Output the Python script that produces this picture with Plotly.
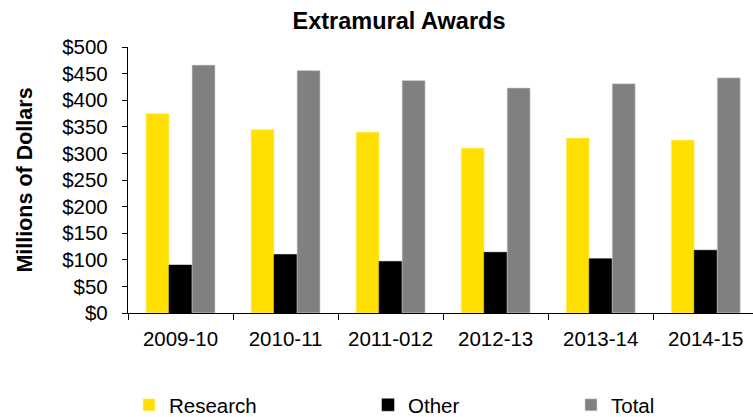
import plotly.graph_objects as go

categories = ["2009-10", "2010-11", "2011-012", "2012-13", "2013-14", "2014-15"]
research = [375, 345, 340, 310, 329, 325]
other = [90, 110, 97, 114, 102, 118]
total = [466, 456, 437, 423, 431, 442]
y_ticks = [0, 50, 100, 150, 200, 250, 300, 350, 400, 450, 500]

FONT = "Liberation Sans, Arial, sans-serif"
W, H = 753, 417

fig = go.Figure()
fig.add_trace(go.Bar(name="Research", x=categories, y=research,
                     marker=dict(color="#FFE000", line=dict(color="#FFF3A0", width=0.6)),
                     legend="legend"))
fig.add_trace(go.Bar(name="Other", x=categories, y=other,
                     marker=dict(color="#000000", line=dict(color="#000000", width=0.6)),
                     legend="legend2"))
fig.add_trace(go.Bar(name="Total", x=categories, y=total,
                     marker=dict(color="#808080", line=dict(color="#D8D8D8", width=0.6)),
                     legend="legend3"))

def leg(xpx):
    return dict(xref="container", yref="container", x=xpx / W, y=1 - 405 / H,
                xanchor="left", yanchor="middle", orientation="h",
                font=dict(family=FONT, size=20.5, color="#000"),
                bgcolor="rgba(0,0,0,0)", borderwidth=0)

fig.update_layout(
    width=W, height=H,
    margin=dict(l=128.3, r=0, t=47.3, b=104.3, autoexpand=False),
    paper_bgcolor="white", plot_bgcolor="white",
    barmode="group", bargap=0.343, bargroupgap=0,
    font=dict(family=FONT, color="#000"),
    title=dict(text="<b>Extramural Awards</b>", x=399 / W, xref="container", xanchor="center",
               y=1 - 20.7 / H, yref="container", yanchor="middle",
               font=dict(family=FONT, size=23.5, color="#000")),
    showlegend=True,
    legend=leg(129), legend2=leg(368), legend3=leg(571),
    xaxis=dict(type="category", range=[-0.5, 5.45], showline=True, linecolor="#000", linewidth=1.3,
               ticks="outside", ticklen=6, tickwidth=1.3, tickcolor="#000", tickson="boundaries",
               showgrid=False, zeroline=False, tickfont=dict(family=FONT, size=20.5, color="#000"),
               ticklabelstandoff=7, automargin=False),
    yaxis=dict(range=[0, 500], tickvals=y_ticks, ticktext=[f"${v}" for v in y_ticks],
               showline=True, linecolor="#000", linewidth=1.3,
               ticks="outside", ticklen=5, tickwidth=1.3, tickcolor="#000",
               showgrid=False, zeroline=False, tickfont=dict(family=FONT, size=20.5, color="#000"),
               ticklabelstandoff=10,
               title=dict(text="<b>Millions of Dollars</b>", standoff=23,
                          font=dict(family=FONT, size=21.5, color="#000")),
               automargin=False),
)

fig.write_html("out.html", config={"displayModeBar": False},
               post_script="document.body.style.margin='0';document.body.style.overflow='hidden';")
